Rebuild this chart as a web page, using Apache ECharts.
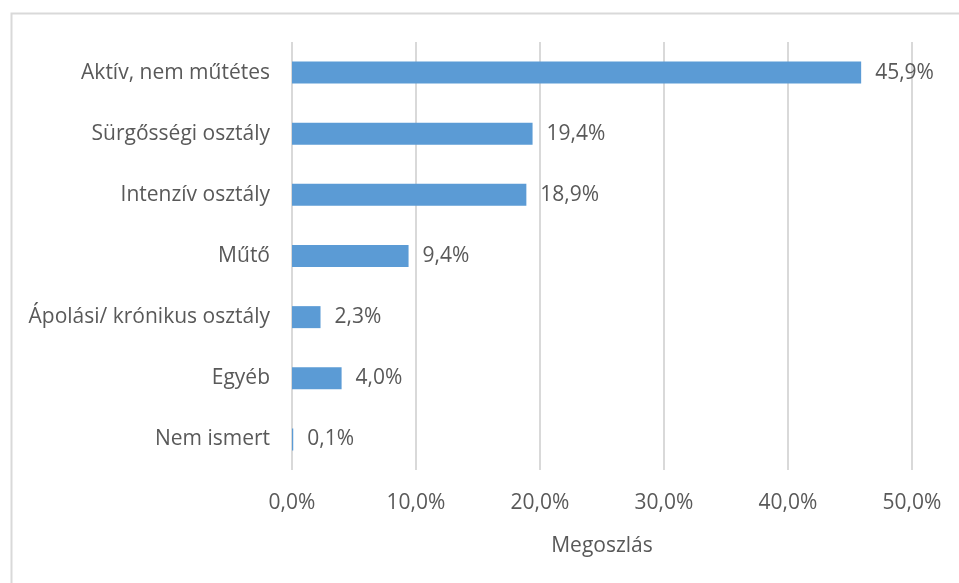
<!DOCTYPE html>
<html>
<head>
<meta charset="utf-8">
<script src="https://cdn.jsdelivr.net/npm/echarts@6/dist/echarts.min.js"></script>
<style>
html, body { margin: 0; padding: 0; background: #fff; }
#chart { width: 959px; height: 583px; }
</style>
</head>
<body>
<div id="chart"></div>
<script>
// categories top to bottom
const categories = ['Aktív, nem műtétes', 'Sürgősségi osztály', 'Intenzív osztály', 'Műtő', 'Ápolási/ krónikus osztály', 'Egyéb', 'Nem ismert']
const shares = [45.9, 19.4, 18.9, 9.4, 2.3, 4.0, 0.1]
const axisTicks = [0, 10, 20, 30, 40, 50]
const axisName = 'Megoszlás'

const font = '"Open Sans", "Noto Sans", sans-serif'
const textColor = '#595959'
const fmt = v => v.toFixed(1).replace('.', ',') + '%'

const myChart = echarts.init(document.getElementById('chart'))
myChart.setOption({
  animation: false,
  graphic: [{
    type: 'rect',
    shape: { x: 11.5, y: 13.5, width: 960, height: 600 },
    style: { fill: 'none', stroke: '#d9d9d9', lineWidth: 2 }
  }],
  grid: {
    left: 292,
    right: 47,
    top: 42,
    bottom: 113
  },
  xAxis: {
    type: 'value',
    min: axisTicks[0],
    max: axisTicks[axisTicks.length - 1],
    interval: axisTicks[1] - axisTicks[0],
    name: axisName,
    nameLocation: 'middle',
    nameGap: 66,
    nameTextStyle: { color: textColor, fontSize: 21, fontFamily: font },
    axisLine: { show: false },
    axisTick: { show: false },
    axisLabel: {
      color: textColor,
      fontSize: 21,
      fontFamily: font,
      margin: 23,
      formatter: v => fmt(v)
    },
    splitLine: { lineStyle: { color: '#d9d9d9', width: 2 } }
  },
  yAxis: {
    type: 'category',
    data: categories,
    inverse: true,
    axisLine: { show: false },
    axisTick: { show: false },
    axisLabel: {
      color: textColor,
      fontSize: 21,
      fontFamily: font,
      margin: 22
    }
  },
  series: [{
    type: 'bar',
    data: shares,
    barWidth: 22,
    itemStyle: { color: '#5b9bd5' },
    label: {
      show: true,
      position: 'right',
      distance: 14,
      color: textColor,
      fontSize: 21,
      fontFamily: font,
      formatter: p => fmt(p.value)
    }
  }]
})
window.addEventListener('resize', () => {
  myChart.resize()
})
</script>
</body>
</html>
